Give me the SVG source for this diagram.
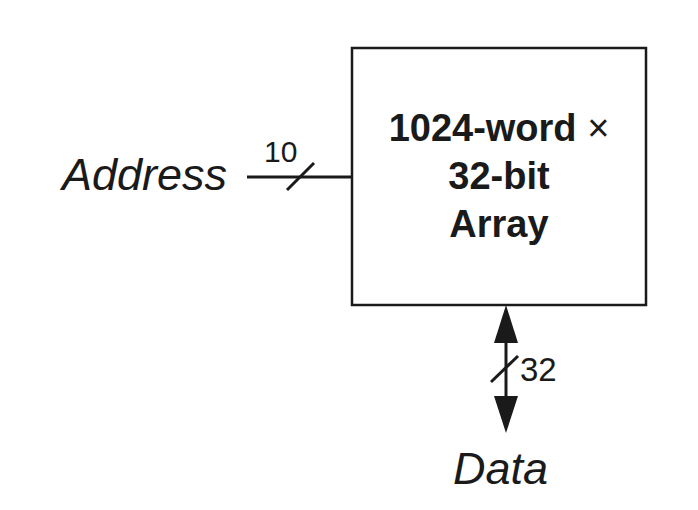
<svg xmlns="http://www.w3.org/2000/svg" width="698" height="510" viewBox="0 0 698 510">
<style>
.ln{stroke:#1a1a1a;stroke-width:3;fill:none}
.box{stroke:#1a1a1a;stroke-width:2.5;fill:#fff}
.t{font-family:"Liberation Sans",Arial,sans-serif;fill:#1a1a1a}
.b{font-weight:bold;font-size:38px;text-anchor:middle}
.i{font-style:italic;font-size:45px}
</style>
<rect width="698" height="510" fill="#fff"/>
<g id="array">
<rect class="box" x="352" y="48" width="294" height="257"/>
<text class="t b" x="499" y="141">1024-word <tspan font-weight="normal">×</tspan></text>
<text class="t b" x="499" y="189">32-bit</text>
<text class="t b" x="499" y="237">Array</text>
</g>
<g id="address">
<text class="t i" x="62" y="190">Address</text>
</g>
<g id="data">
<text class="t i" x="453" y="484">Data</text>
</g>
<g id="connectors">
<line class="ln" x1="247" y1="177" x2="352" y2="177"/>
<line class="ln" x1="287" y1="190" x2="314" y2="163" stroke-width="2.5"/>
<text class="t" x="264" y="162" font-size="30">10</text>
<line class="ln" x1="506" y1="338" x2="506" y2="400"/>
<polygon points="506,305 518,343 494,343" fill="#1a1a1a"/>
<polygon points="506,433 518,396 494,396" fill="#1a1a1a"/>
<line class="ln" x1="491" y1="382" x2="518" y2="356" stroke-width="2.5"/>
<text class="t" x="520" y="381" font-size="33">32</text>
</g>
</svg>
